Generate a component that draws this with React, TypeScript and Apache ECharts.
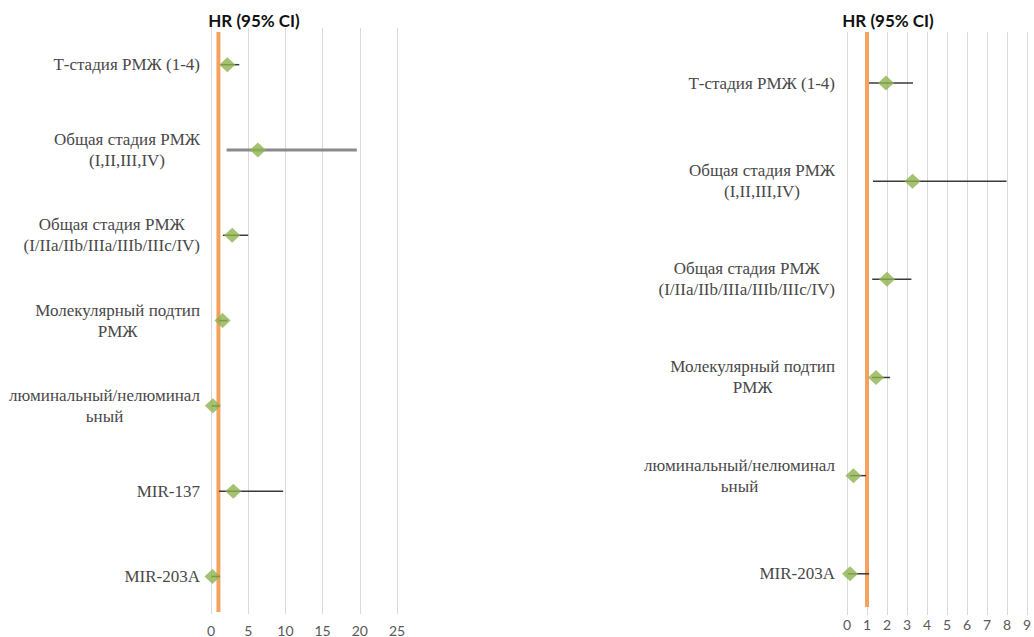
import React, { useEffect, useRef } from 'react';
import * as echarts from 'echarts';

// ---------- data ----------
const titleText = 'HR (95% CI)';
const referenceHR = 1;

const leftCategories = [
  'Т-стадия РМЖ (1-4)',
  'Общая стадия РМЖ\n(I,II,III,IV)',
  'Общая стадия РМЖ\n(I/IIa/IIb/IIIa/IIIb/IIIc/IV)',
  'Молекулярный подтип\nРМЖ',
  'люминальный/нелюминал\nьный',
  'MIR-137',
  'MIR-203A',
];
const leftHR = [2.2, 6.3, 2.85, 1.55, 0.25, 3.0, 0.2];
const leftLow = [1.3, 2.1, 1.6, 1.1, 0.1, 1.07, 0.05];
const leftHigh = [3.8, 19.6, 5.0, 2.2, 1.2, 9.7, 1.2];
const leftTicks = [0, 5, 10, 15, 20, 25];

const rightCategories = [
  'Т-стадия РМЖ (1-4)',
  'Общая стадия РМЖ\n(I,II,III,IV)',
  'Общая стадия РМЖ\n(I/IIa/IIb/IIIa/IIIb/IIIc/IV)',
  'Молекулярный подтип\nРМЖ',
  'люминальный/нелюминал\nьный',
  'MIR-203A',
];
const rightHR = [1.95, 3.28, 2.0, 1.45, 0.32, 0.15];
const rightLow = [1.1, 1.3, 1.26, 1.25, 0.15, 0.05];
const rightHigh = [3.3, 7.98, 3.22, 2.15, 0.95, 1.11];
const rightTicks = [0, 1, 2, 3, 4, 5, 6, 7, 8, 9];

// ---------- styles ----------
const GREEN = '#8fb350';
const ORANGE = '#f5a25e';
const GRID_GRAY = '#d9d9d9';
const LABEL_COLOR = '#484848';
const SERIF = "'Liberation Serif', 'Times New Roman', serif";
const SANS = "Lato, 'Open Sans', sans-serif";

function catFormatter(cats: string[]) {
  return (v: number) => {
    const c = cats[Math.round(v)];
    if (c === undefined) return '';
    return c
      .split('\n')
      .map((l) => `{c|${l}}`)
      .join('\n');
  };
}

function xAxisFor(gridIndex: number, ticks: number[], margin: number) {
  return {
    type: 'value',
    gridIndex,
    min: ticks[0],
    max: ticks[ticks.length - 1],
    interval: ticks[1] - ticks[0],
    axisLine: { show: false },
    axisTick: { show: false },
    axisLabel: { color: '#595959', fontFamily: SANS, fontSize: 14, margin },
    splitLine: { show: true, lineStyle: { color: GRID_GRAY, width: 1 } },
  };
}

function yAxisFor(gridIndex: number, cats: string[], min: number, max: number, margin: number) {
  return {
    type: 'value',
    gridIndex,
    inverse: true,
    min,
    max,
    axisLine: { show: false },
    axisTick: { show: false },
    splitLine: { show: false },
    axisLabel: {
      customValues: cats.map((_, i) => i),
      formatter: catFormatter(cats),
      margin,
      align: 'right',
      fontFamily: SERIF,
      fontSize: 17,
      color: LABEL_COLOR,
      rich: {
        c: {
          align: 'center',
          fontFamily: SERIF,
          fontSize: 17,
          lineHeight: 21,
          color: LABEL_COLOR,
        },
      },
    },
  };
}

function ciSeries(idx: number, low: number[], high: number[], thickRows: number[]) {
  return {
    type: 'custom',
    xAxisIndex: idx,
    yAxisIndex: idx,
    silent: true,
    z: 3,
    data: low.map((l, i) => [l, high[i], i]),
    encode: { x: [0, 1], y: 2 },
    renderItem: (params: any, api: any) => {
      const y = api.value(2);
      const a = api.coord([api.value(0), y]);
      const b = api.coord([api.value(1), y]);
      const thick = thickRows.indexOf(params.dataIndex) >= 0;
      return {
        type: 'line',
        shape: { x1: a[0], y1: a[1], x2: b[0], y2: b[1] },
        style: { stroke: thick ? '#8a8a8a' : '#3a3a3a', lineWidth: thick ? 3 : 1.5 },
      };
    },
  };
}

function refSeries(idx: number, y0: number, y1: number) {
  return {
    type: 'line',
    xAxisIndex: idx,
    yAxisIndex: idx,
    silent: true,
    z: 2,
    showSymbol: false,
    symbol: 'none',
    data: [
      [referenceHR, y0],
      [referenceHR, y1],
    ],
    lineStyle: { color: ORANGE, width: 4 },
  };
}

function pointSeries(idx: number, hr: number[]) {
  return {
    type: 'scatter',
    xAxisIndex: idx,
    yAxisIndex: idx,
    silent: true,
    z: 4,
    symbol: 'diamond',
    symbolSize: [16, 15],
    itemStyle: { color: GREEN },
    data: hr.map((v, i) => [v, i]),
  };
}

function titleGraphic(x: number) {
  return {
    type: 'text',
    x,
    y: 20,
    style: {
      text: titleText,
      fontFamily: SANS,
      fontWeight: 'bold',
      fontSize: 17,
      fill: '#111111',
      align: 'center',
      verticalAlign: 'middle',
    },
  };
}

export default function App() {
  const ref = useRef<HTMLDivElement>(null);
  useEffect(() => {
    if (!ref.current) return;
    const chart = echarts.init(ref.current, undefined, { renderer: 'svg' });
    chart.setOption({
      animation: false,
      backgroundColor: '#ffffff',
      grid: [
        { left: 211, top: 28, width: 186, height: 587 },
        { left: 847, top: 32, width: 180, height: 583 },
      ],
      xAxis: [xAxisFor(0, leftTicks, 9), xAxisFor(1, rightTicks, 2)],
      yAxis: [
        yAxisFor(0, leftCategories, -0.43, 6.44, 11),
        yAxisFor(1, rightCategories, -0.52, 5.42, 12),
      ],
      graphic: [titleGraphic(254), titleGraphic(888)],
      series: [
        refSeries(0, -0.383, 6.417),
        ciSeries(0, leftLow, leftHigh, [1]),
        pointSeries(0, leftHR),
        refSeries(1, -0.52, 5.338),
        ciSeries(1, rightLow, rightHigh, []),
        pointSeries(1, rightHR),
      ],
    });
    return () => chart.dispose();
  }, []);
  return (
    <div
      ref={ref}
      style={{ position: 'fixed', left: 0, top: 0, width: 1034, height: 637, background: '#fff' }}
    />
  );
}
